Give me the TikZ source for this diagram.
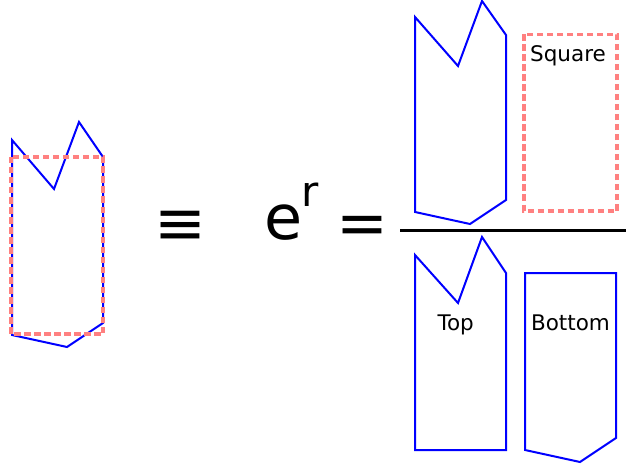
\documentclass[tikz,border=0pt]{standalone}
\usepackage{fontspec}
\setmainfont{DejaVu Sans}
\begin{document}
\begin{tikzpicture}[x=1pt,y=-1pt,
  shapeline/.style={draw=blue,line width=2pt,line join=miter},
  sqbox/.style={draw={rgb,255:red,255;green,128;blue,128},line width=3.2pt,dash pattern=on 6.5pt off 3.5pt},
  lbl/.style={inner sep=0pt,font=\fontsize{21.5}{26}\selectfont},
  bigsym/.style={inner sep=0pt,font=\fontsize{62}{70}\selectfont}]
\useasboundingbox (0,0) rectangle (626,465);
% left figure
\draw[shapeline] (12,140) -- (54,189) -- (79,122) -- (103,157) -- (103,323) -- (67,347) -- (12,335) -- cycle;
\draw[sqbox] (11,157) rectangle (103,334);
% symbols
\node[bigsym] (equiv) at (180,227.5) {≡};
\node[bigsym] (e) at (283.3,222.5) {e};
\node[inner sep=0pt,font=\fontsize{42}{48}\selectfont] (r) at (310.5,195) {r};
\node[bigsym] (eq) at (362.3,230) {=};
% fraction line
\draw[line width=3pt] (400,230) -- (626,230);
% numerator
\draw[shapeline] (415,17) -- (458,66) -- (482,1) -- (506,35) -- (506,200) -- (470,224) -- (415,212) -- cycle;
\draw[sqbox] (524,34.5) rectangle (617,211);
\node[lbl] (square) at (568,56) {Square};
% denominator
\draw[shapeline] (415,255) -- (458,303) -- (482,237) -- (506,273) -- (506,450) -- (415,450) -- cycle;
\node[lbl] (top) at (455.7,324.5) {Top};
\draw[shapeline] (525,273) -- (616,273) -- (616,438) -- (580,462) -- (525,450) -- cycle;
\node[lbl] (bottom) at (570.5,323) {Bottom};
\end{tikzpicture}
\end{document}
